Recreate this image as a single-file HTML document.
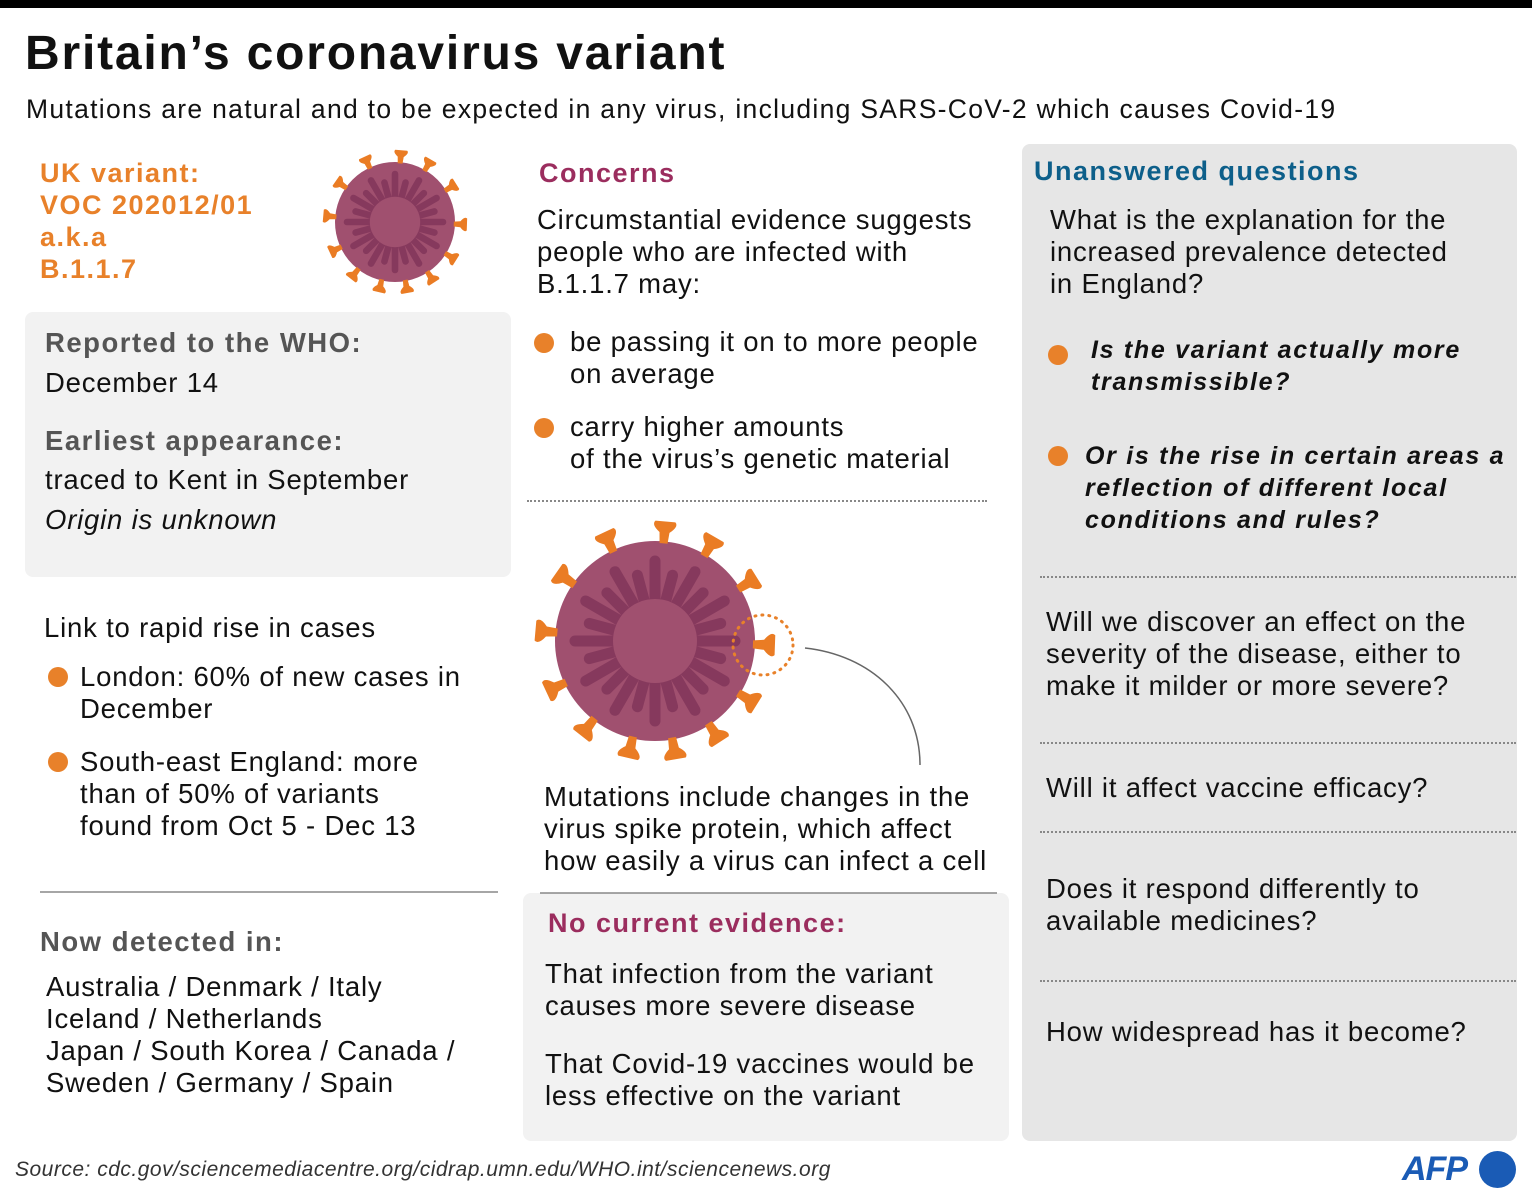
<!DOCTYPE html>
<html><head><meta charset="utf-8"><style>
*{margin:0;padding:0;box-sizing:border-box}
body{width:1532px;height:1200px;background:#fff;position:relative;overflow:hidden;font-family:"Liberation Sans",sans-serif;color:#111}
.t{position:absolute;white-space:nowrap;font-size:27.5px;line-height:32px;letter-spacing:0.8px}
.b{font-weight:bold;letter-spacing:1.5px}
.i{font-style:italic}
.bi{font-weight:bold;font-style:italic;font-size:25px;letter-spacing:1.7px}
.g{color:#555}
.o{color:#e8812a}
.p{color:#9b2d5e}
.bl{color:#0d5f8a}
.dot{position:absolute;width:20px;height:20px;border-radius:50%;background:#e8812a}
.box{position:absolute;border-radius:8px}
.dl{position:absolute;height:0;border-top:2px dotted #888}
</style></head><body>
<div style="position:absolute;left:0;top:0;width:1532px;height:8px;background:#000"></div>
<div class="t" style="left:25px;top:26px;font-weight:bold;font-size:48px;line-height:56px;letter-spacing:1.8px">Britain’s coronavirus variant</div>
<div class="t" style="left:26px;top:93px;font-size:26.5px;letter-spacing:1.3px">Mutations are natural and to be expected in any virus, including SARS-CoV-2 which causes Covid-19</div>

<div class="box" style="left:25px;top:312px;width:486px;height:265px;background:#f2f2f2"></div>
<div class="box" style="left:1022px;top:144px;width:495px;height:997px;background:#e6e6e6"></div>
<div class="box" style="left:523px;top:893px;width:486px;height:248px;background:#f2f2f2"></div>

<svg width="1532" height="1200" style="position:absolute;left:0;top:0">
<defs>
<path id="sp" d="M-4,2 L4,2 L5,-9 Q14,-16 10,-20 L-10,-20 Q-14,-16 -5,-9Z" fill="#ea7c24"/>
<g id="vir">
<circle r="100" fill="#a0506f"/>
<g stroke="#86395d" stroke-width="11" stroke-linecap="round">
<line x1="0" y1="-40" x2="0" y2="-80"/>
<line x1="0" y1="-40" x2="0" y2="-68" transform="rotate(15)"/>
<line x1="0" y1="-40" x2="0" y2="-80" transform="rotate(30)"/>
<line x1="0" y1="-40" x2="0" y2="-68" transform="rotate(45)"/>
<line x1="0" y1="-40" x2="0" y2="-80" transform="rotate(60)"/>
<line x1="0" y1="-40" x2="0" y2="-68" transform="rotate(75)"/>
<line x1="0" y1="-40" x2="0" y2="-80" transform="rotate(90)"/>
<line x1="0" y1="-40" x2="0" y2="-68" transform="rotate(105)"/>
<line x1="0" y1="-40" x2="0" y2="-80" transform="rotate(120)"/>
<line x1="0" y1="-40" x2="0" y2="-68" transform="rotate(135)"/>
<line x1="0" y1="-40" x2="0" y2="-80" transform="rotate(150)"/>
<line x1="0" y1="-40" x2="0" y2="-68" transform="rotate(165)"/>
<line x1="0" y1="-40" x2="0" y2="-80" transform="rotate(180)"/>
<line x1="0" y1="-40" x2="0" y2="-68" transform="rotate(195)"/>
<line x1="0" y1="-40" x2="0" y2="-80" transform="rotate(210)"/>
<line x1="0" y1="-40" x2="0" y2="-68" transform="rotate(225)"/>
<line x1="0" y1="-40" x2="0" y2="-80" transform="rotate(240)"/>
<line x1="0" y1="-40" x2="0" y2="-68" transform="rotate(255)"/>
<line x1="0" y1="-40" x2="0" y2="-80" transform="rotate(270)"/>
<line x1="0" y1="-40" x2="0" y2="-68" transform="rotate(285)"/>
<line x1="0" y1="-40" x2="0" y2="-80" transform="rotate(300)"/>
<line x1="0" y1="-40" x2="0" y2="-68" transform="rotate(315)"/>
<line x1="0" y1="-40" x2="0" y2="-80" transform="rotate(330)"/>
<line x1="0" y1="-40" x2="0" y2="-68" transform="rotate(345)"/>
</g>
<circle r="42" fill="#a0506f"/>
<use href="#sp" transform="rotate(5) translate(0,-100)"/>
<use href="#sp" transform="rotate(30) translate(0,-100)"/>
<use href="#sp" transform="rotate(58) translate(0,-100)"/>
<use href="#sp" transform="rotate(92) translate(0,-100)"/>
<use href="#sp" transform="rotate(122) translate(0,-100)"/>
<use href="#sp" transform="rotate(147) translate(0,-100)"/>
<use href="#sp" transform="rotate(170) translate(0,-100)"/>
<use href="#sp" transform="rotate(193) translate(0,-100)"/>
<use href="#sp" transform="rotate(218) translate(0,-100)"/>
<use href="#sp" transform="rotate(245) translate(0,-100)"/>
<use href="#sp" transform="rotate(275) translate(0,-100)"/>
<use href="#sp" transform="rotate(305) translate(0,-100)"/>
<use href="#sp" transform="rotate(335) translate(0,-100)"/>
</g>
</defs>
<use href="#vir" transform="translate(395,222) scale(0.6)"/>
<use href="#vir" transform="translate(655,641)"/>
<circle cx="763" cy="645" r="30" fill="none" stroke="#e8812a" stroke-width="3" stroke-dasharray="1 6" stroke-linecap="round"/>
<path d="M805,648 C870,655 920,700 920,765" fill="none" stroke="#666" stroke-width="1.5"/>
<line x1="40" y1="892" x2="498" y2="892" stroke="#888" stroke-width="1.5"/>
<line x1="540" y1="893" x2="997" y2="893" stroke="#888" stroke-width="1.5"/>
</svg>

<div class="t b o" style="left:40px;top:157px;font-size:27px;line-height:32px">UK variant:<br>VOC 202012/01<br>a.k.a<br>B.1.1.7</div>

<div class="t b g" style="left:45px;top:327px">Reported to the WHO:</div>
<div class="t" style="left:45px;top:367px">December 14</div>
<div class="t b g" style="left:45px;top:425px">Earliest appearance:</div>
<div class="t" style="left:45px;top:464px">traced to Kent in September</div>
<div class="t i" style="left:45px;top:504px">Origin is unknown</div>

<div class="t" style="left:44px;top:612px">Link to rapid rise in cases</div>
<div class="dot" style="left:48px;top:667px"></div>
<div class="t" style="left:80px;top:661px">London: 60% of new cases in<br>December</div>
<div class="dot" style="left:48px;top:752px"></div>
<div class="t" style="left:80px;top:746px">South-east England: more<br>than of 50% of variants<br>found from Oct 5 - Dec 13</div>

<div class="t b g" style="left:40px;top:926px">Now detected in:</div>
<div class="t" style="left:46px;top:971px">Australia / Denmark / Italy<br>Iceland / Netherlands<br>Japan / South Korea / Canada /<br>Sweden / Germany / Spain</div>

<div class="t b p" style="left:539px;top:157px;font-size:27px">Concerns</div>
<div class="t" style="left:537px;top:204px">Circumstantial evidence suggests<br>people who are infected with<br>B.1.1.7 may:</div>
<div class="dot" style="left:534px;top:333px"></div>
<div class="t" style="left:570px;top:326px">be passing it on to more people<br>on average</div>
<div class="dot" style="left:534px;top:418px"></div>
<div class="t" style="left:570px;top:411px">carry higher amounts<br>of the virus’s genetic material</div>
<div class="dl" style="left:527px;top:500px;width:460px"></div>

<div class="t" style="left:544px;top:781px">Mutations include changes in the<br>virus spike protein, which affect<br>how easily a virus can infect a cell</div>

<div class="t b p" style="left:548px;top:907px;font-size:27px">No current evidence:</div>
<div class="t" style="left:545px;top:958px">That infection from the variant<br>causes more severe disease</div>
<div class="t" style="left:545px;top:1048px">That Covid-19 vaccines would be<br>less effective on the variant</div>

<div class="t b bl" style="left:1034px;top:155px;font-size:27px">Unanswered questions</div>
<div class="t" style="left:1050px;top:204px">What is the explanation for the<br>increased prevalence detected<br>in England?</div>
<div class="dot" style="left:1048px;top:345px"></div>
<div class="t bi" style="left:1091px;top:334px">Is the variant actually more<br>transmissible?</div>
<div class="dot" style="left:1048px;top:446px"></div>
<div class="t bi" style="left:1085px;top:440px">Or is the rise in certain areas a<br>reflection of different local<br>conditions and rules?</div>
<div class="dl" style="left:1040px;top:576px;width:476px"></div>
<div class="t" style="left:1046px;top:606px">Will we discover an effect on the<br>severity of the disease, either to<br>make it milder or more severe?</div>
<div class="dl" style="left:1040px;top:742px;width:476px"></div>
<div class="t" style="left:1046px;top:772px">Will it affect vaccine efficacy?</div>
<div class="dl" style="left:1040px;top:831px;width:476px"></div>
<div class="t" style="left:1046px;top:873px">Does it respond differently to<br>available medicines?</div>
<div class="dl" style="left:1040px;top:980px;width:476px"></div>
<div class="t" style="left:1046px;top:1016px">How widespread has it become?</div>

<div class="t i" style="left:15px;top:1156px;font-size:21px;line-height:28px;color:#333;letter-spacing:0.5px">Source: cdc.gov/sciencemediacentre.org/cidrap.umn.edu/WHO.int/sciencenews.org</div>
<div class="t" style="left:1402px;top:1149px;font-weight:900;font-style:italic;font-size:34px;line-height:40px;color:#1a5bb5;letter-spacing:-1px">AFP</div>
<div style="position:absolute;left:1479px;top:1151px;width:37px;height:37px;border-radius:50%;background:#1a5bb5"></div>
</body></html>
